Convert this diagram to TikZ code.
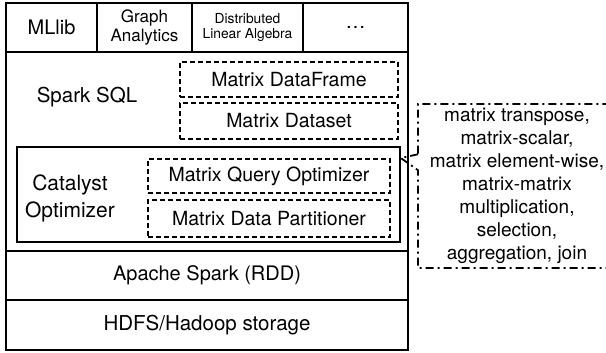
\documentclass[tikz,border=0pt]{standalone}
\usepackage{fontspec}
\setmainfont{TeX Gyre Heros}
\usetikzlibrary{shapes.callouts, positioning}

\begin{document}
\begin{tikzpicture}[x=1pt, y=-1pt]
    \tikzstyle{layer} = [draw, line width=1.8pt, inner sep=0pt, align=center, font=\fontsize{20}{22}\selectfont]
    \tikzstyle{matbox} = [draw, dash pattern=on 5pt off 3pt, line width=1.8pt, minimum width=242pt, inner sep=0pt, font=\fontsize{19.5}{21}\selectfont]
    \tikzstyle{label} = [align=center, inner sep=0pt, font=\fontsize{20.5}{27}\selectfont]
    \tikzstyle{opsbox} = [rectangle callout, draw, line width=1.8pt, dash pattern=on 8pt off 4pt on 2pt off 4pt, callout pointer width=16pt, align=center, inner sep=0pt, font=\fontsize{19}{23}\selectfont]

    \useasboundingbox (0,0) rectangle (606,353);

    % top row
    \node[layer, minimum width=91pt, minimum height=49pt] (mllib) at (51.5,27.5) {MLlib};
    \node[layer, minimum width=95pt, minimum height=49pt, font=\fontsize{17}{19}\selectfont] (graph) at (144.5,27.5) {Graph\\Analytics};
    \node[layer, minimum width=111pt, minimum height=49pt, font=\fontsize{13.8}{15}\selectfont] (linalg) at (247.5,27.5) {Distributed\\Linear Algebra};
    \node[layer, minimum width=105pt, minimum height=49pt] (more) at (355.5,27.5) {\dots};

    % spark sql layer
    \node[layer, minimum width=402pt, minimum height=199pt] (sql) at (207,151.5) {};
    \node[label] (sqltext) at (87,97) {Spark SQL};
    \node[matbox, minimum width=218pt, minimum height=35pt] (mframe) at (289,79.5) {Matrix DataFrame};
    \node[matbox, minimum width=218pt, minimum height=36pt] (mset) at (289,121) {Matrix Dataset};

    % catalyst
    \node[layer, minimum width=383pt, minimum height=95pt] (catalyst) at (208.5,194.5) {};
    \node[label, font=\fontsize{21}{27}\selectfont] (cattext) at (70,198) {Catalyst\\Optimizer};
    \node[matbox, minimum height=34pt] (qopt) at (269,176) {Matrix Query Optimizer};
    \node[matbox, minimum height=37pt] (part) at (269,218.5) {Matrix Data Partitioner};

    % lower layers
    \node[layer, minimum width=402pt, minimum height=49pt] (spark) at (207,275.5) {Apache Spark (RDD)};
    \node[layer, minimum width=402pt, minimum height=50pt, font=\fontsize{20.5}{22}\selectfont] (hdfs) at (207,325) {HDFS/Hadoop storage};

    % operations
    \node[opsbox, minimum width=198pt, minimum height=164pt, callout absolute pointer={(catalyst.east |- qopt.north)}] (ops) at (517,186)
        {matrix transpose,\\matrix-scalar,\\matrix element-wise,\\matrix-matrix\\multiplication,\\selection,\\aggregation, join};
\end{tikzpicture}
\end{document}
